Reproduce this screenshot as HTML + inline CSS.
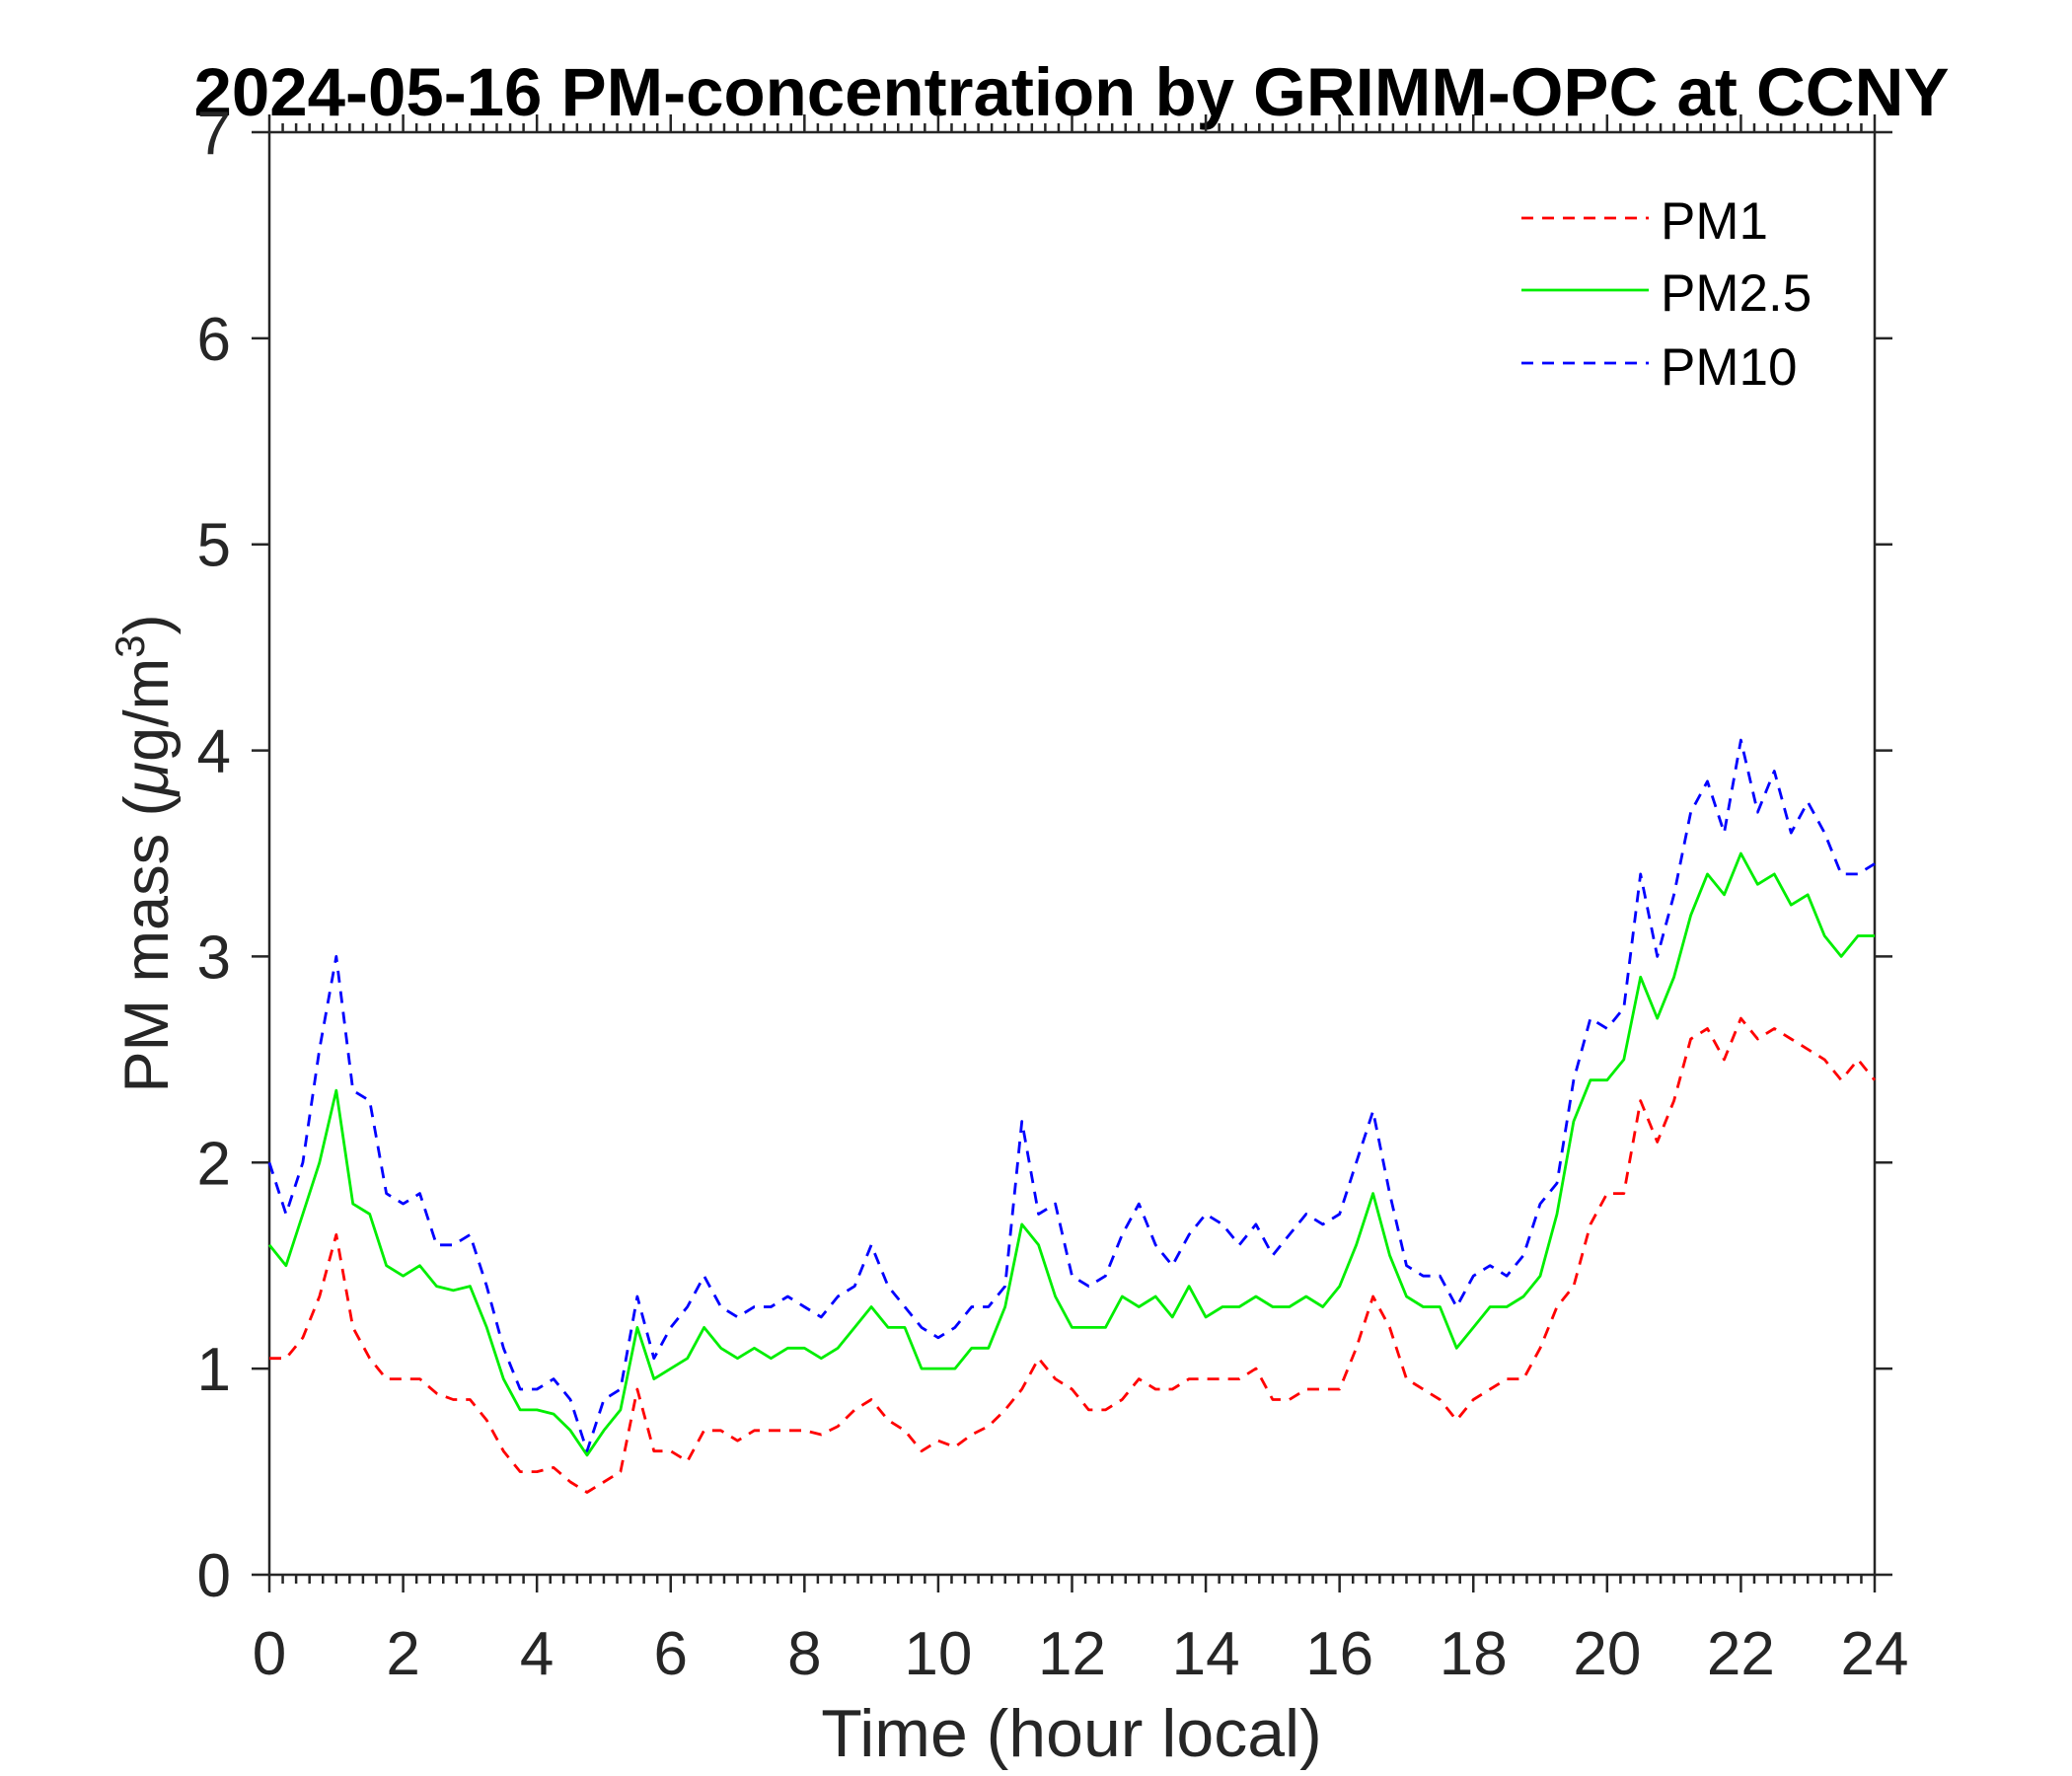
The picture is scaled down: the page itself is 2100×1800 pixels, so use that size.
<!DOCTYPE html>
<html><head><meta charset="utf-8"><style>
html,body{margin:0;padding:0;background:#fff;}
svg{display:block;font-family:"Liberation Sans",Arial,sans-serif;}
</style></head><body>
<svg id="chart" width="2100" height="1800" viewBox="0 0 2100 1800" xmlns="http://www.w3.org/2000/svg">
<rect width="2100" height="1800" fill="#fff"/>
<text x="1086" y="117" text-anchor="middle" font-size="69" font-weight="bold" fill="#000">2024-05-16 PM-concentration by GRIMM-OPC at CCNY</text>
<g id="axes"></g>
<g id="series"></g>
<text x="1086" y="1780" text-anchor="middle" font-size="68" fill="#262626">Time (hour local)</text>
<text transform="translate(170,865) rotate(-90)" text-anchor="middle" font-size="63" fill="#262626">PM mass (<tspan font-style="italic">μ</tspan>g/m<tspan dy="-24" font-size="42">3</tspan><tspan dy="24">)</tspan></text>
<g id="legend">
<line x1="1542" y1="221" x2="1671" y2="221" stroke="#ff0000" stroke-width="2.8" stroke-dasharray="12,9"/>
<text x="1683" y="242" font-size="53" fill="#000">PM1</text>
<line x1="1542" y1="294" x2="1671" y2="294" stroke="#00ee00" stroke-width="2.8"/>
<text x="1683" y="315" font-size="53" fill="#000">PM2.5</text>
<line x1="1542" y1="368" x2="1671" y2="368" stroke="#0000ff" stroke-width="2.8" stroke-dasharray="12,9"/>
<text x="1683" y="390" font-size="53" fill="#000">PM10</text>
</g>
</svg>
<script>
const xTicks = [0,2,4,6,8,10,12,14,16,18,20,22,24];
const yTicks = [0,1,2,3,4,5,6,7];
const pm1 = [
1.05,1.05,1.15,1.35, 1.65,1.2,1.05,0.95, 0.95,0.95,0.88,0.85, 0.85,0.75,0.6,0.5,
0.5,0.52,0.45,0.4, 0.45,0.5,0.9,0.6, 0.6,0.55,0.7,0.7, 0.65,0.7,0.7,0.7,
0.7,0.68,0.72,0.8, 0.85,0.75,0.7,0.6, 0.65,0.62,0.68,0.72, 0.8,0.9,1.05,0.95,
0.9,0.8,0.8,0.85, 0.95,0.9,0.9,0.95, 0.95,0.95,0.95,1.0, 0.85,0.85,0.9,0.9,
0.9,1.1,1.35,1.2, 0.95,0.9,0.85,0.75, 0.85,0.9,0.95,0.95, 1.1,1.3,1.4,1.7,
1.85,1.85,2.3,2.1, 2.3,2.6,2.65,2.5, 2.7,2.6,2.65,2.6, 2.55,2.5,2.4,2.5, 2.4];
const pm25 = [
1.6,1.5,1.75,2.0, 2.35,1.8,1.75,1.5, 1.45,1.5,1.4,1.38, 1.4,1.2,0.95,0.8,
0.8,0.78,0.7,0.58, 0.7,0.8,1.2,0.95, 1.0,1.05,1.2,1.1, 1.05,1.1,1.05,1.1,
1.1,1.05,1.1,1.2, 1.3,1.2,1.2,1.0, 1.0,1.0,1.1,1.1, 1.3,1.7,1.6,1.35,
1.2,1.2,1.2,1.35, 1.3,1.35,1.25,1.4, 1.25,1.3,1.3,1.35, 1.3,1.3,1.35,1.3,
1.4,1.6,1.85,1.55, 1.35,1.3,1.3,1.1, 1.2,1.3,1.3,1.35, 1.45,1.75,2.2,2.4,
2.4,2.5,2.9,2.7, 2.9,3.2,3.4,3.3, 3.5,3.35,3.4,3.25, 3.3,3.1,3.0,3.1, 3.1];
const pm10 = [
2.0,1.75,2.0,2.55, 3.0,2.35,2.3,1.85, 1.8,1.85,1.6,1.6, 1.65,1.4,1.1,0.9,
0.9,0.95,0.85,0.6, 0.85,0.9,1.35,1.05, 1.2,1.3,1.45,1.3, 1.25,1.3,1.3,1.35,
1.3,1.25,1.35,1.4, 1.6,1.4,1.3,1.2, 1.15,1.2,1.3,1.3, 1.4,2.2,1.75,1.8,
1.45,1.4,1.45,1.65, 1.8,1.6,1.5,1.65, 1.75,1.7,1.6,1.7, 1.55,1.65,1.75,1.7,
1.75,2.0,2.25,1.85, 1.5,1.45,1.45,1.3, 1.45,1.5,1.45,1.55, 1.8,1.9,2.4,2.7,
2.65,2.75,3.4,3.0, 3.3,3.7,3.85,3.6, 4.05,3.7,3.9,3.6, 3.75,3.6,3.4,3.4, 3.45];
const stepHours = 0.25;

const L=273,R=1900,T=134,B=1596;
const xs = h => L + (h/24)*(R-L);
const ys = v => B - (v/7)*(B-T);
const NS="http://www.w3.org/2000/svg";
function mk(tag, attrs, parent){const e=document.createElementNS(NS,tag);for(const k in attrs)e.setAttribute(k,attrs[k]);parent.appendChild(e);return e;}
const ax=document.getElementById('axes');
const st={stroke:"#262626","stroke-width":"2.5",fill:"none"};
const frame=mk('rect',Object.assign({x:L,y:T,width:R-L,height:B-T},st),ax);


for(let i=0;i<=120;i++){
  const h=i*0.2; if(i%10===0) continue;
  const x=xs(h);
  const t1=mk('line',Object.assign({x1:x,y1:B,x2:x,y2:B+9},st),ax);
  
  
  const t2=mk('line',Object.assign({x1:x,y1:T,x2:x,y2:T-9},st),ax);
  
  
}
xTicks.forEach(h=>{
  const x=xs(h);
  const t=mk('line',Object.assign({x1:x,y1:B,x2:x,y2:B+18},st),ax);
  
  
  const t2=mk('line',Object.assign({x1:x,y1:T,x2:x,y2:T-18},st),ax);
  
  
  const lb=mk('text',{x:x,y:1697,"text-anchor":"middle","font-size":"62",fill:"#262626"},ax);
  lb.textContent=h;
  
  
});
yTicks.forEach(v=>{
  const y=ys(v);
  const t=mk('line',Object.assign({x1:L-18,y1:y,x2:L,y2:y},st),ax);
  
  
  const t2=mk('line',Object.assign({x1:R,y1:y,x2:R+18,y2:y},st),ax);
  
  
  const lb=mk('text',{x:234,y:y+22,"text-anchor":"end","font-size":"62",fill:"#262626"},ax);
  lb.textContent=v;
  
  
});
const sg=document.getElementById('series');
function draw(arr,color,dash,name){
  const d=arr.map((v,i)=>(i?'L':'M')+xs(i*stepHours).toFixed(1)+','+ys(v).toFixed(1)).join('');
  const p=mk('path',{d:d,stroke:color,"stroke-width":"2.8",fill:"none","stroke-linejoin":"round"},sg);
  if(dash)p.setAttribute('stroke-dasharray',dash);
  
  
}
draw(pm1,'#ff0000','12,9','pm1-line');
draw(pm10,'#0000ff','12,9','pm10-line');
draw(pm25,'#00ee00',null,'pm25-line');
</script>
</body></html>
